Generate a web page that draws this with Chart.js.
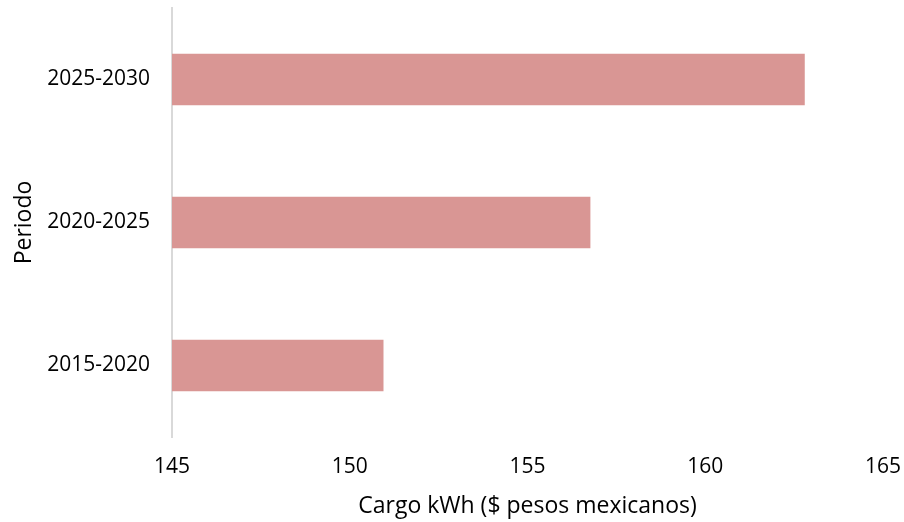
<!DOCTYPE html>
<html>
<head>
<meta charset="utf-8">
<script src="https://cdn.jsdelivr.net/npm/chart.js@4/dist/chart.umd.min.js"></script>
<style>
  html, body { margin: 0; padding: 0; background: #ffffff; }
  #wrap { width: 904px; height: 522px; }
</style>
</head>
<body>
<div id="wrap"><canvas id="c" width="904" height="522"></canvas></div>
<script>
// Periods (drawn bottom to top) and the kWh charge for each
const periodos = ["2015-2020", "2020-2025", "2025-2030"];
const cargoKwh = [150.94, 156.76, 162.79];
const xTicks = [145, 150, 155, 160, 165];

const FONT = "'Open Sans', sans-serif";

function draw() {
  new Chart(document.getElementById("c"), {
    type: "bar",
    data: {
      labels: periodos,
      datasets: [{
        data: cargoKwh,
        backgroundColor: "#d99694",
        borderWidth: 0,
        barThickness: 51
      }]
    },
    options: {
      indexAxis: "y",
      responsive: false,
      animation: false,
      layout: { padding: { top: 8, right: 21, bottom: 2, left: 11 } },
      plugins: { legend: { display: false }, tooltip: { enabled: false } },
      scales: {
        x: {
          min: xTicks[0],
          max: xTicks[xTicks.length - 1],
          afterBuildTicks: (axis) => { axis.ticks = xTicks.map(v => ({ value: v })); },
          // fixed band under the plot for tick labels and the axis title
          afterFit: (axis) => { axis.paddingLeft = 0; axis.paddingRight = 0; axis.height = 83; },
          grid: { display: false, drawTicks: false },
          border: { display: false },
          ticks: { color: "#000", padding: 17, font: { family: FONT, size: 21 } },
          title: {
            display: true,
            text: "Cargo kWh ($ pesos mexicanos)",
            color: "#000",
            padding: { top: 4, bottom: 0 },
            font: { family: FONT, size: 23 }
          }
        },
        y: {
          reverse: true,
          // fixed band left of the plot for period labels and the axis title
          afterFit: (axis) => { axis.paddingTop = 0; axis.paddingBottom = 0; axis.width = 161; },
          grid: { display: false, drawTicks: false },
          border: { display: true, color: "#d9d9d9", width: 2 },
          ticks: { color: "#000", padding: 22, font: { family: FONT, size: 21 } },
          title: {
            display: true,
            text: "Periodo",
            color: "#000",
            padding: { top: 0, bottom: 6 },
            font: { family: FONT, size: 23 }
          }
        }
      }
    }
  });
}

Promise.all([
  document.fonts.load("21px 'Open Sans'"),
  document.fonts.load("23px 'Open Sans'")
]).then(draw, draw);
</script>
</body>
</html>
